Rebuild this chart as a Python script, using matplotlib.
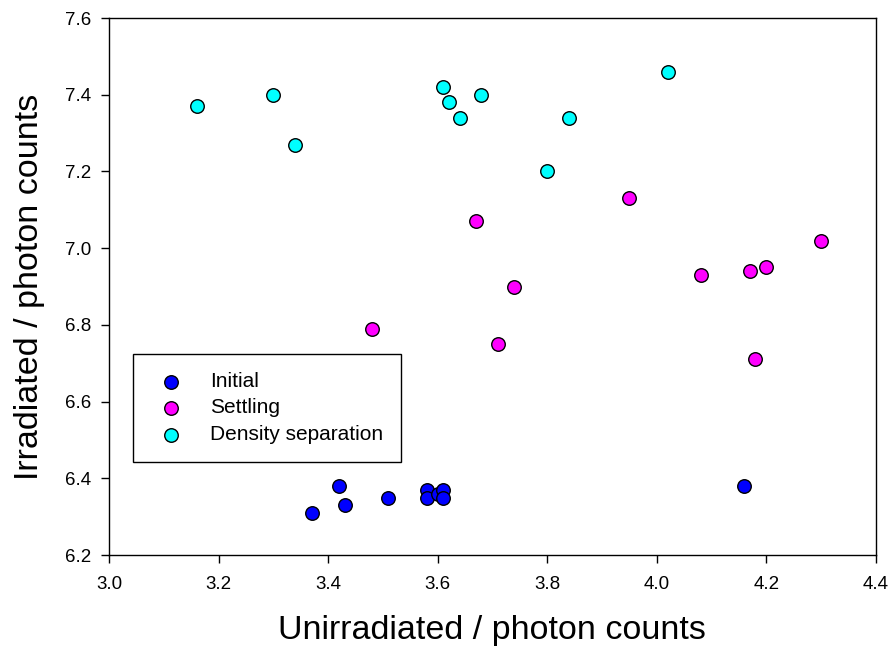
import matplotlib

matplotlib.use("Agg")
import matplotlib.pyplot as plt

plt.rcParams["font.family"] = ["Liberation Sans", "DejaVu Sans"]

initial_x = [3.37, 3.42, 3.43, 3.51, 3.58, 3.58, 3.60, 3.61, 3.61, 4.16]
initial_y = [6.31, 6.38, 6.33, 6.35, 6.37, 6.35, 6.36, 6.37, 6.35, 6.38]

settling_x = [3.48, 3.67, 3.71, 3.74, 3.95, 4.08, 4.17, 4.18, 4.20, 4.30]
settling_y = [6.79, 7.07, 6.75, 6.90, 7.13, 6.93, 6.94, 6.71, 6.95, 7.02]

density_x = [3.16, 3.30, 3.34, 3.61, 3.62, 3.64, 3.68, 3.80, 3.84, 4.02]
density_y = [7.37, 7.40, 7.27, 7.42, 7.38, 7.34, 7.40, 7.20, 7.34, 7.46]

x_ticks = [3.0, 3.2, 3.4, 3.6, 3.8, 4.0, 4.2, 4.4]
y_ticks = [6.2, 6.4, 6.6, 6.8, 7.0, 7.2, 7.4, 7.6]

fig = plt.figure(figsize=(8.91, 6.57), dpi=100)
ax = fig.add_axes([0.1223, 0.155, 0.8607, 0.8176])

kw = dict(s=95, edgecolors="black", linewidths=1.0, zorder=3)
ax.scatter(initial_x, initial_y, color="#0000ff", label="Initial", **kw)
ax.scatter(settling_x, settling_y, color="#ff00ff", label="Settling", **kw)
ax.scatter(density_x, density_y, color="#00ffff", label="Density separation", **kw)

ax.set_xlim(3.0, 4.4)
ax.set_ylim(6.2, 7.6)
ax.set_xticks(x_ticks)
ax.set_yticks(y_ticks)
ax.set_xticklabels([f"{v:.1f}" for v in x_ticks])
ax.set_yticklabels([f"{v:.1f}" for v in y_ticks])
ax.tick_params(direction="out", length=6, width=1, labelsize=13.5, top=False, right=False)
ax.tick_params(axis="x", pad=9)
ax.tick_params(axis="y", pad=7)
for sp in ax.spines.values():
    sp.set_linewidth(1)

ax.set_xlabel("Unirradiated / photon counts", fontsize=24.5, labelpad=16)
ax.set_ylabel("Irradiated / photon counts", fontsize=24.5, labelpad=14)

leg = ax.legend(loc="upper left", bbox_to_anchor=(0.031, 0.374),
                fancybox=False, edgecolor="black", fontsize=15,
                borderpad=0.85, handletextpad=0.85, labelspacing=0.36,
                borderaxespad=0, framealpha=1)
leg.get_frame().set_linewidth(1)

fig.savefig("out.png", dpi=100)
